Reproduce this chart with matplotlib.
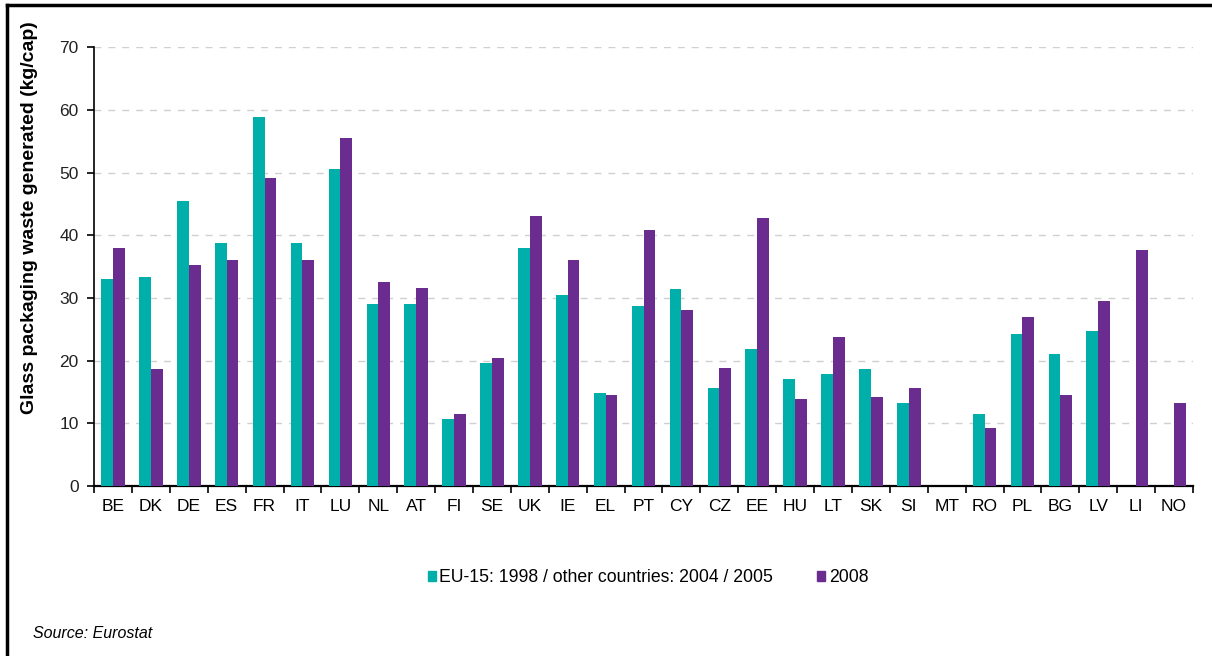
import numpy as np
import matplotlib
matplotlib.use("Agg")
import matplotlib.pyplot as plt
from matplotlib.patches import Patch
from matplotlib.lines import Line2D

plt.rcParams['font.family'] = ['Liberation Sans', 'DejaVu Sans']

countries = ['BE', 'DK', 'DE', 'ES', 'FR', 'IT', 'LU', 'NL', 'AT', 'FI', 'SE', 'UK', 'IE', 'EL', 'PT',
             'CY', 'CZ', 'EE', 'HU', 'LT', 'SK', 'SI', 'MT', 'RO', 'PL', 'BG', 'LV', 'LI', 'NO']
# EU-15: 1998 / other countries: 2004 / 2005 (nan = no data)
early = [33.1, 33.4, 45.5, 38.7, 58.8, 38.7, 50.6, 29.0, 29.0, 10.7, 19.6, 37.9, 30.5, 14.8, 28.7,
         31.4, 15.7, 21.9, 17.1, 17.8, 18.6, 13.3, np.nan, 11.5, 24.3, 21.0, 24.8, np.nan, np.nan]
y2008 = [37.9, 18.6, 35.2, 36.1, 49.1, 36.1, 55.6, 32.5, 31.6, 11.5, 20.4, 43.1, 36.1, 14.5, 40.8,
         28.1, 18.9, 42.8, 13.9, 23.7, 14.2, 15.7, np.nan, 9.2, 26.9, 14.5, 29.6, 37.6, 13.3]
series_labels = ['EU-15: 1998 / other countries: 2004 / 2005', '2008']
teal = '#00AEAA'
purple = '#6A2D8F'

fig = plt.figure(figsize=(12.12, 6.56), dpi=100)
ax = fig.add_axes([0.0776, 0.2591, 0.9067, 0.6688])

x = np.arange(len(countries))
w = 0.31
ax.bar(x - w / 2, early, width=w, color=teal, zorder=3)
ax.bar(x + w / 2, y2008, width=w, color=purple, zorder=3)

ax.set_xlim(-0.5, len(countries) - 0.5)
ax.set_ylim(0, 70)
ax.set_yticks(range(0, 71, 10))
ax.yaxis.grid(True, linestyle=(0, (5, 5)), color='#d0d0d0', linewidth=1, zorder=0)
ax.set_axisbelow(True)

ax.set_xticks(x)
ax.set_xticklabels(countries, fontsize=12.5)
ax.set_xticks(np.arange(-0.5, len(countries)), minor=True)
ax.tick_params(axis='x', which='major', length=0, pad=9)
ax.tick_params(axis='x', which='minor', length=5, width=1.2, direction='out')
ax.tick_params(axis='y', length=5, width=1.2, labelsize=12.5, pad=6)
for lab in ax.get_yticklabels():
    lab.set_color('#222222')

for s in ['top', 'right']:
    ax.spines[s].set_visible(False)
ax.spines['left'].set_linewidth(1.2)
ax.spines['bottom'].set_linewidth(1.6)

fig.text(30 / 1212, 1 - 218 / 656, 'Glass packaging waste generated (kg/cap)', rotation=90,
         fontsize=14, fontweight='bold', ha='center', va='center')

handles = [Patch(color=teal), Patch(color=purple)]
fig.legend(handles, series_labels, loc='center', bbox_to_anchor=(648 / 1212, 1 - 578 / 656),
           ncol=2, frameon=False, fontsize=12.7, handlelength=0.45, handleheight=0.45,
           handletextpad=0.2, columnspacing=2.5)

fig.text(33 / 1212, 1 - 634 / 656, 'Source: Eurostat', fontsize=11.5, style='italic',
         ha='left', va='center')

# outer frame (left and top edges)
fig.add_artist(Line2D([6.5 / 1212, 6.5 / 1212], [0, 1 - 5 / 656], color='black', lw=2.5,
                      transform=fig.transFigure))
fig.add_artist(Line2D([6.5 / 1212, 1], [1 - 5 / 656, 1 - 5 / 656], color='black', lw=2.5,
                      transform=fig.transFigure))

fig.savefig('out.png', dpi=100)
